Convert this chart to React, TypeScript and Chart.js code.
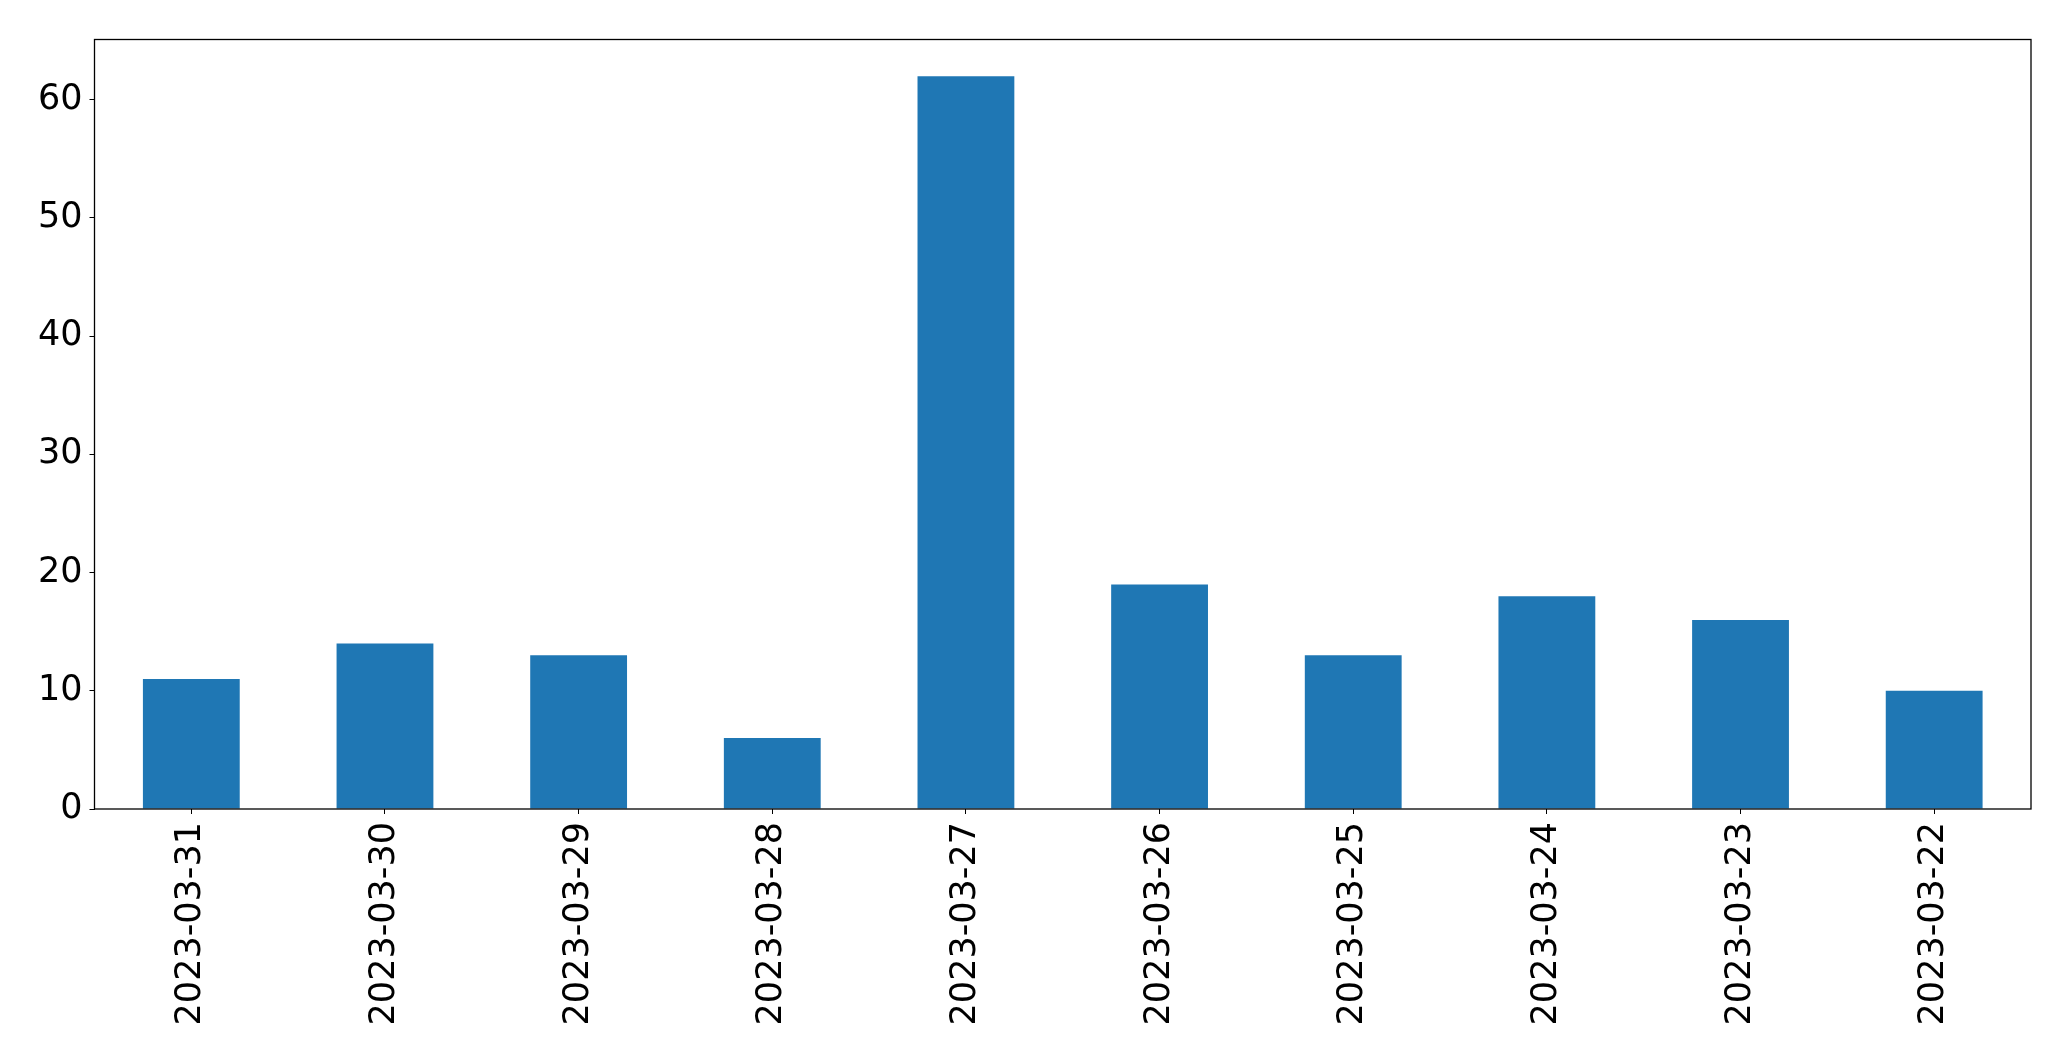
import React, { useEffect, useRef } from "react";
import { Chart, registerables } from "chart.js";

Chart.register(...registerables);

const categories = [
  "2023-03-31", "2023-03-30", "2023-03-29", "2023-03-28", "2023-03-27",
  "2023-03-26", "2023-03-25", "2023-03-24", "2023-03-23", "2023-03-22",
];
const values = [11, 14, 13, 6, 62, 19, 13, 18, 16, 10];
const yTicks = [0, 10, 20, 30, 40, 50, 60];

const FONT = "'DejaVu Sans', sans-serif";

const frame = {
  id: "frame",
  afterDraw(chart: any) {
    const { ctx, chartArea: a } = chart;
    ctx.save();
    ctx.strokeStyle = "#000";
    ctx.lineWidth = 1.3;
    ctx.strokeRect(a.left, a.top, a.right - a.left, a.bottom - a.top);
    ctx.restore();
  },
};

export default function App() {
  const ref = useRef<HTMLCanvasElement>(null);
  useEffect(() => {
    const chart = new Chart(ref.current!, {
      type: "bar",
      data: {
        labels: categories,
        datasets: [
          {
            data: values,
            backgroundColor: "#1f77b4",
            barPercentage: 0.5,
            categoryPercentage: 1,
          },
        ],
      },
      options: {
        animation: false,
        responsive: false,
        devicePixelRatio: 1,
        layout: { padding: { top: 39.5, right: 40, left: 0, bottom: 0 } },
        plugins: { legend: { display: false }, tooltip: { enabled: false } },
        scales: {
          x: {
            offset: true,
            grid: { display: true, drawOnChartArea: false, drawTicks: true, tickLength: 5, color: "#000", offset: false },
            border: { display: false },
            ticks: { color: "#000", font: { family: FONT, size: 35 }, maxRotation: 90, minRotation: 90, padding: 8, autoSkip: false },
            afterFit(scale: any) { scale.height = 252; },
          },
          y: {
            min: 0,
            max: 65.1,
            grid: { display: true, drawOnChartArea: false, drawTicks: true, tickLength: 5, color: "#000" },
            border: { display: false },
            ticks: {
              color: "#000",
              font: { family: FONT, size: 35 },
              padding: 7,
            },
            afterBuildTicks(scale: any) {
              scale.ticks = yTicks.map((v) => ({ value: v }));
            },
            afterFit(scale: any) { scale.width = 94.5; },
          },
        },
      },
      plugins: [frame],
    });
    return () => chart.destroy();
  }, []);
  return (
    <canvas
      ref={ref}
      width={2071}
      height={1061}
      style={{ position: "absolute", left: 0, top: 0, width: 2071, height: 1061, background: "#fff" }}
    />
  );
}
